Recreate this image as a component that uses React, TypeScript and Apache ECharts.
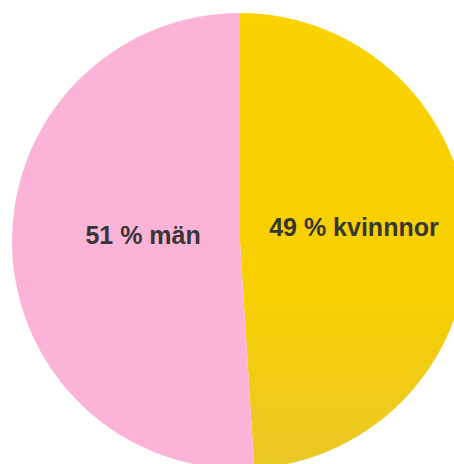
import React, { useEffect, useRef } from "react";
import * as echarts from "echarts";

const categories = ["kvinnnor", "män"];
const values = [49, 51];
const labels = ["49 % kvinnnor", "51 % män"];
const colors = ["#F9D000", "#FBB4D7"];

export default function App() {
  const ref = useRef<HTMLDivElement>(null);
  useEffect(() => {
    if (!ref.current) return;
    const chart = echarts.init(ref.current, undefined, { renderer: "svg" });
    const shifts = [
      { dx: -3, dy: -10 },
      { dx: 20, dy: -10 },
    ];
    chart.setOption({
      animation: false,
      backgroundColor: "#ffffff",
      series: [
        {
          type: "pie",
          center: [240, 241],
          radius: [0, 228],
          startAngle: 90,
          clockwise: true,
          silent: true,
          label: {
            show: true,
            position: "inside",
            formatter: (p: any) => labels[p.dataIndex],
            fontFamily: "Liberation Sans, Arial, sans-serif",
            fontWeight: "bold",
            fontSize: 25,
            color: "#363636",
          },
          labelLine: { show: false },
          labelLayout: (p: any) => shifts[p.dataIndex],
          itemStyle: { borderWidth: 0 },
          data: categories.map((c, i) => ({
            name: c,
            value: values[i],
            itemStyle: {
              color:
                i === 0
                  ? new echarts.graphic.LinearGradient(0, 0, 0, 1, [
                      { offset: 0, color: "#FAD200" },
                      { offset: 0.6, color: "#F8D000" },
                      { offset: 1, color: "#EBC728" },
                    ])
                  : colors[i],
            },
          })),
        },
      ],
    });
    return () => chart.dispose();
  }, []);
  return (
    <div
      ref={ref}
      style={{ position: "fixed", left: 0, top: 0, width: 454, height: 464 }}
    />
  );
}
